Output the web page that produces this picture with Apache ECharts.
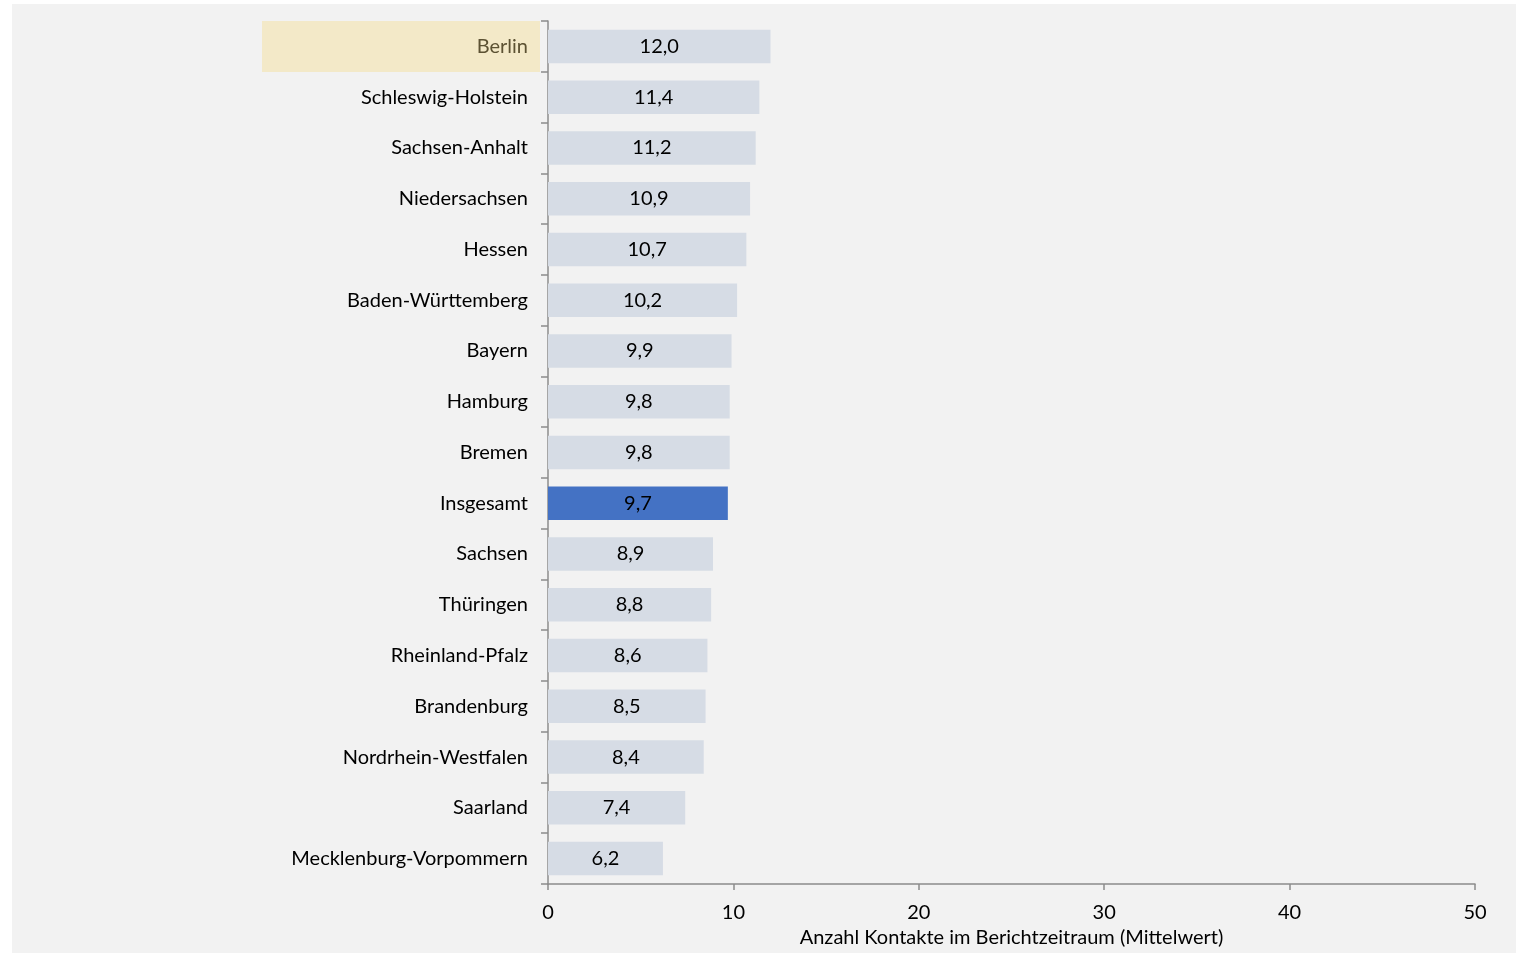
<!DOCTYPE html>
<html><head><meta charset="utf-8">
<script src="https://cdn.jsdelivr.net/npm/echarts@6/dist/echarts.min.js"></script>
<style>html,body{margin:0;padding:0;background:#fff;overflow:hidden}#c{width:1516px;height:953px}</style>
</head><body><div id="c"></div>
<script>
const categories = ["Berlin","Schleswig-Holstein","Sachsen-Anhalt","Niedersachsen","Hessen","Baden-Württemberg","Bayern","Hamburg","Bremen","Insgesamt","Sachsen","Thüringen","Rheinland-Pfalz","Brandenburg","Nordrhein-Westfalen","Saarland","Mecklenburg-Vorpommern"];
const values = [12.0,11.4,11.2,10.9,10.7,10.2,9.9,9.8,9.8,9.7,8.9,8.8,8.6,8.5,8.4,7.4,6.2];
const xTicks = [0,10,20,30,40,50];
const highlightCategory = "Berlin";
const totalCategory = "Insgesamt";
const axisName = "Anzahl Kontakte im Berichtzeitraum (Mittelwert)";

const chart = echarts.init(document.getElementById('c'));
const FONT = 'Lato';
chart.setOption({
  backgroundColor: '#ffffff',
  animation: false,
  textStyle: {fontFamily: FONT},
  graphic: [{type:'rect', z:-10, shape:{x:12,y:4,width:1504,height:949}, style:{fill:'#f2f2f2'}}],
  grid: {left:548, width:927, top:21, height:867, containLabel:false},
  xAxis: {
    type:'value', min:xTicks[0], max:xTicks[xTicks.length-1], interval:10,
    axisLine:{show:true, lineStyle:{color:'#8c8c8c', width:1.5}},
    axisTick:{show:true, length:6, lineStyle:{color:'#8c8c8c', width:1.5}},
    splitLine:{show:false},
    axisLabel:{color:'#000', fontSize:20, fontFamily:FONT, margin:19},
    name: axisName, nameLocation:'middle', nameGap:44,
    nameTextStyle:{color:'#000', fontSize:20, fontFamily:FONT}
  },
  yAxis: {
    type:'category', data:categories, inverse:true,
    axisLine:{show:true, lineStyle:{color:'#8c8c8c', width:1.5}},
    axisTick:{show:true, length:7, alignWithLabel:false, lineStyle:{color:'#8c8c8c', width:1.5}},
    axisLabel:{
      margin:8,
      formatter: v => v === highlightCategory ? '{hl|' + v + '}' : '{n|' + v + '}',
      rich:{
        n:{color:'#000', fontSize:20, fontFamily:FONT, padding:[0,12,0,0]},
        hl:{color:'#5c5233', fontSize:20, fontFamily:FONT, backgroundColor:'#f3e9c8', width:266, height:51, align:'right', padding:[0,12,0,0]}
      }
    }
  },
  series: [{
    type:'bar', barWidth:'66%',
    data: values.map((v,i) => ({value:v, itemStyle:{color: categories[i]===totalCategory ? '#4472c4' : '#d6dce5'}})),
    label:{show:true, position:'inside', color:'#000', fontSize:20, fontFamily:FONT,
      formatter: p => p.value.toFixed(1).replace('.', ',')}
  }]
});
</script></body></html>
